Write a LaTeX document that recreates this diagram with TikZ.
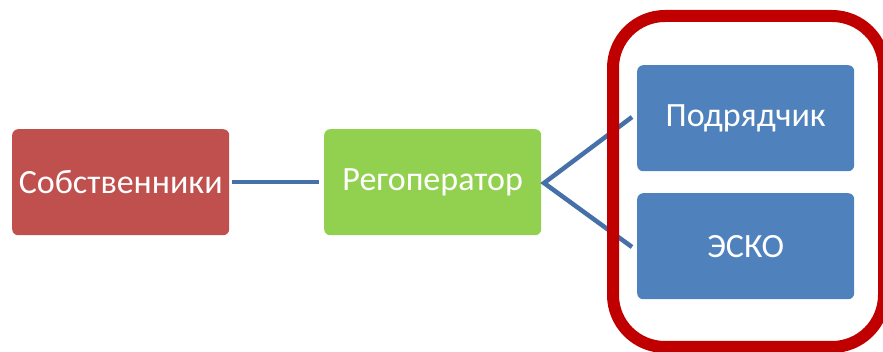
\documentclass[tikz,border=0pt]{standalone}
\usepackage{fontspec}
\setmainfont{Carlito}
\definecolor{boxred}{HTML}{C0504D}
\definecolor{boxgreen}{HTML}{92D050}
\definecolor{boxblue}{HTML}{4F81BD}
\definecolor{linkblue}{HTML}{4571A8}
\definecolor{framered}{HTML}{C00000}
\begin{document}
\begin{tikzpicture}[x=1pt,y=-1pt,
  entity/.style={rounded corners=6pt, minimum width=217pt, minimum height=106pt,
    inner sep=0pt, text=white, font=\fontsize{34}{40}\selectfont, anchor=north west},
  link/.style={draw=linkblue, line width=4.5pt}]
\useasboundingbox (0,0) rectangle (883,352);
\fill[white] (0,0) rectangle (883,352);
\node[entity, fill=boxred] (own) at (12,129) {Собственники};
\node[entity, fill=boxgreen] (reg) at (324,129) {Регоператор};
\node[entity, fill=boxblue] (pod) at (637,65) {Подрядчик};
\node[entity, fill=boxblue] (esko) at (637,193) {ЭСКО};
\coordinate (fork) at (544,183);
\coordinate (podin) at (632,117);
\coordinate (eskoin) at (632,247);
\draw[link] ([xshift=3pt]own.east) -- ([xshift=-5pt]own.east -| reg.west);
\draw[link] (podin) -- (fork) -- (eskoin);
\draw[draw=framered, line width=12pt, rounded corners=52pt] (613,16) rectangle (884,347);
\end{tikzpicture}
\end{document}
